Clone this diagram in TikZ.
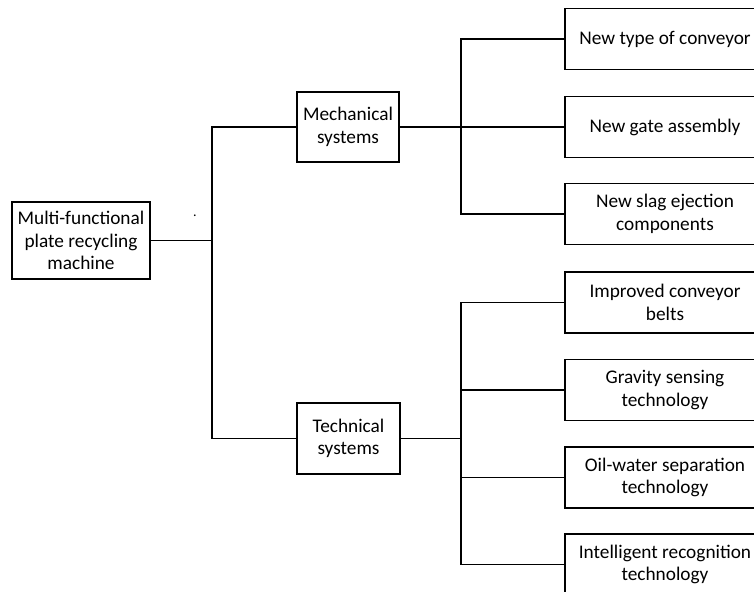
\documentclass[tikz,border=0pt]{standalone}
\usepackage{fontspec}
\setmainfont{Carlito}
\begin{document}
\begin{tikzpicture}[x=1pt,y=-1pt,
  box/.style={draw, line width=1.2pt, align=center, inner sep=0pt,
    font=\fontsize{19.3}{22.5}\selectfont},
  leaf/.style={box, minimum width=200pt, minimum height=61pt},
  wire/.style={line width=1.2pt}]
\useasboundingbox (0,0) rectangle (754,591);
\clip (0,0) rectangle (754,591);
\node[box, minimum width=138pt, minimum height=77pt] (root) at (81,240.5){Multi-functional\\plate recycling\\machine};
\node[box, minimum width=102pt, minimum height=70pt] (mech) at (348,127){Mechanical\\systems};
\node[box, minimum width=103pt, minimum height=71pt] (tech) at (348.5,438.5){Technical\\systems};
\node[leaf] (conv) at (665,39){New type of conveyor};
\node[leaf] (gate) at (665,127){New gate assembly};
\node[leaf] (slag) at (665,214){New slag ejection\\components};
\node[leaf] (belt) at (665,302.5){Improved conveyor\\belts};
\node[leaf] (grav) at (665,390){Gravity sensing\\technology};
\node[leaf] (oil) at (665,477.5){Oil-water separation\\technology};
\node[leaf] (recog) at (665,564.5){Intelligent recognition\\technology};
\node[anchor=base, inner sep=0pt, font=\fontsize{14}{14}\selectfont] (dot) at (195,216){.};
\coordinate (j1) at (212,240.5);
\coordinate (j2) at (461,127);
\coordinate (j3) at (461,438.5);
\draw[wire](root) -- (j1);
\draw[wire](mech.west) -| (j1) |- (tech.west);
\draw[wire](mech) -- (gate);
\draw[wire](conv.west) -| (j2) |- (slag.west);
\draw[wire](tech.east) -- (j3);
\draw[wire](belt.west) -| (j3) |- (recog.west);
\draw[wire](grav.west) -- (grav.west -| j3);
\draw[wire](oil.west) -- (oil.west -| j3);
\end{tikzpicture}
\end{document}
